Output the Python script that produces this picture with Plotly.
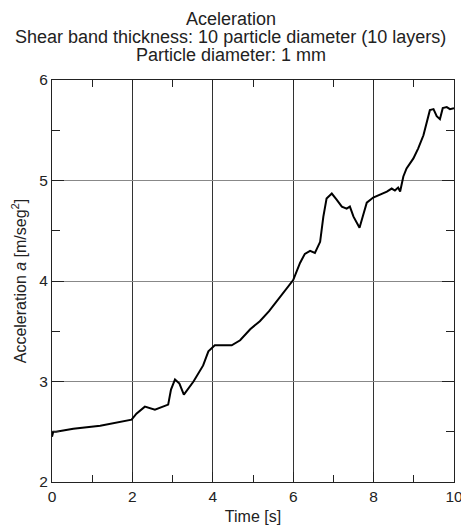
import plotly.graph_objects as go

time_s = [0.0, 0.03, 0.1, 0.53, 1.2, 1.69, 1.98, 2.1, 2.31, 2.56, 2.89, 2.96, 3.06, 3.17,
          3.28, 3.52, 3.76, 3.89, 4.05, 4.47, 4.68, 4.93, 5.17, 5.4, 5.63, 6.0, 6.17,
          6.29, 6.42, 6.54, 6.67, 6.75, 6.83, 6.96, 7.08, 7.21, 7.33, 7.41, 7.5, 7.65,
          7.75, 7.83, 7.99, 8.16, 8.33, 8.45, 8.53, 8.61, 8.66, 8.74, 8.82, 8.99, 9.11,
          9.24, 9.32, 9.4, 9.49, 9.57, 9.65, 9.72, 9.82, 9.9, 10.0]
accel = [2.45, 2.50, 2.50, 2.53, 2.56, 2.60, 2.62, 2.68, 2.75, 2.72, 2.77, 2.92, 3.02, 2.98,
         2.87, 3.00, 3.16, 3.30, 3.36, 3.36, 3.41, 3.52, 3.60, 3.70, 3.82, 4.01, 4.18,
         4.27, 4.30, 4.28, 4.39, 4.64, 4.82, 4.87, 4.81, 4.74, 4.72, 4.74, 4.64, 4.53,
         4.67, 4.78, 4.83, 4.86, 4.89, 4.92, 4.90, 4.93, 4.89, 5.04, 5.12, 5.22, 5.32,
         5.45, 5.57, 5.70, 5.71, 5.64, 5.61, 5.72, 5.73, 5.71, 5.72]

x_ticks = [0, 2, 4, 6, 8, 10]
y_ticks = [2, 3, 4, 5, 6]
title_lines = ["Aceleration",
               "Shear band thickness: 10 particle diameter (10 layers)",
               "Particle diameter: 1 mm"]

fig = go.Figure()
fig.add_trace(go.Scatter(x=time_s, y=accel, mode="lines",
                         line=dict(color="black", width=2), showlegend=False))

font = "Liberation Sans, Arial, sans-serif"
W, H = 461, 525
ML, MR, MT, MB = 52, 7, 80, 43
plot_w = W - ML - MR
plot_h = H - MT - MB
fig.update_layout(
    width=W, height=H,
    margin=dict(l=ML, r=MR, t=MT, b=MB),
    paper_bgcolor="white", plot_bgcolor="white",
    font=dict(family=font, color="#222", size=15),
)
title_px = [19, 37, 55]
for txt, py in zip(title_lines, title_px):
    fig.add_annotation(text=txt, xref="paper", yref="paper",
                       x=(0.5 * W - ML) / plot_w,
                       y=(H - MB - py) / plot_h, xanchor="center", yanchor="middle",
                       showarrow=False, font=dict(family=font, size=18, color="#222"))

fig.update_xaxes(
    range=[0, 10], tickvals=x_ticks, ticks="inside", ticklen=10, tickwidth=1, tickcolor="#222",
    showline=True, linecolor="#222", linewidth=1, mirror="ticks", automargin=False,
    showgrid=True, gridcolor="#333", gridwidth=1, zeroline=False, ticklabeloverflow="allow",
    minor=dict(dtick=1, ticks="inside", ticklen=7, tickcolor="#222", showgrid=False),
    title=dict(text="Time [s]", standoff=8, font=dict(size=16)),
    tickfont=dict(size=15.5),
)
fig.update_yaxes(
    range=[2, 6], tickvals=y_ticks, ticks="inside", ticklen=12, tickwidth=1, tickcolor="#222",
    showline=True, linecolor="#222", linewidth=1, mirror="ticks", automargin=False,
    showgrid=True, gridcolor="#888", gridwidth=1, zeroline=False, ticklabeloverflow="allow",
    minor=dict(dtick=0.5, ticks="inside", ticklen=8, tickcolor="#222", showgrid=False),
    title=dict(text="Acceleration <i>a</i> [m/seg<sup>2</sup>]", standoff=8, font=dict(size=16)),
    tickfont=dict(size=15.5),
)

fig.write_html("out.html", config={"displayModeBar": False},
               post_script="document.body.style.margin='0';document.body.style.overflow='hidden';")
